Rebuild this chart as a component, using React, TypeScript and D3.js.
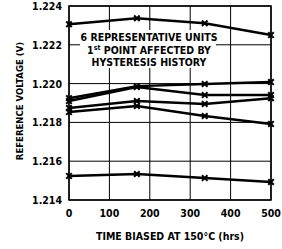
import React, { useEffect, useRef } from "react";
import * as d3 from "d3";

const hours = [0, 168, 336, 500];
const series = [
  [1.22306, 1.22337, 1.22311, 1.2225],
  [1.21925, 1.21987, 1.21998, 1.22008],
  [1.2191, 1.21982, 1.21941, 1.21941],
  [1.21874, 1.2191, 1.21895, 1.21925],
  [1.21853, 1.21884, 1.21833, 1.21792],
  [1.21524, 1.21534, 1.21513, 1.21493],
];
const xTicks = [0, 100, 200, 300, 400, 500];
const yTicks = [1.214, 1.216, 1.218, 1.22, 1.222, 1.224];
const note = ["6 REPRESENTATIVE UNITS", "POINT AFFECTED BY", "HYSTERESIS HISTORY"];

export default function App() {
  const ref = useRef<SVGSVGElement>(null);

  useEffect(() => {
    const svg = d3.select(ref.current);
    svg.selectAll("*").remove();
    const font = "'DejaVu Sans Condensed', 'DejaVu Sans', sans-serif";

    const x = d3.scaleLinear().domain([0, 500]).range([69, 271]);
    const y = d3.scaleLinear().domain([1.214, 1.224]).range([200, 6]);

    // grid
    const g = svg.append("g").attr("stroke", "#000").attr("stroke-width", 1);
    g.selectAll(".vx").data(xTicks).join("line")
      .attr("x1", d => x(d)).attr("x2", d => x(d)).attr("y1", y(1.224)).attr("y2", y(1.214));
    g.selectAll(".hy").data(yTicks).join("line")
      .attr("x1", x(0)).attr("x2", x(500)).attr("y1", d => y(d)).attr("y2", d => y(d));

    // white patch behind the annotation
    svg.append("rect").attr("x", 80).attr("y", 30).attr("width", 136).attr("height", 38).attr("fill", "#fff");

    // frame
    svg.append("rect").attr("x", x(0)).attr("y", y(1.224))
      .attr("width", x(500) - x(0)).attr("height", y(1.214) - y(1.224))
      .attr("fill", "none").attr("stroke", "#000").attr("stroke-width", 1.5);

    const line = d3.line<number>().x((d, i) => x(hours[i])).y(d => y(d));
    svg.selectAll(".ser").data(series).join("path")
      .attr("d", d => line(d))
      .attr("fill", "none").attr("stroke", "#000").attr("stroke-width", 2.5);

    const pts = series.flatMap(s => s.map((v, i) => [hours[i], v]));
    const sym = d3.symbol().type(d3.symbolX).size(22);
    svg.selectAll(".mk").data(pts).join("path")
      .attr("d", sym)
      .attr("transform", d => `translate(${x(d[0])},${y(d[1])})`)
      .attr("fill", "none").attr("stroke", "#000").attr("stroke-width", 2);

    // tick labels
    svg.selectAll(".yl").data(yTicks).join("text")
      .attr("x", 62).attr("y", d => y(d) + 4)
      .attr("text-anchor", "end").attr("font-family", font).attr("font-weight", "bold")
      .attr("font-size", 10.5).text(d => d3.format(".3f")(d));
    svg.selectAll(".xl").data(xTicks).join("text")
      .attr("x", d => x(d)).attr("y", 217)
      .attr("text-anchor", "middle").attr("font-family", font).attr("font-weight", "bold")
      .attr("font-size", 10.5).text(d => d);

    // axis titles
    svg.append("text")
      .attr("transform", "translate(23,101) rotate(-90)")
      .attr("text-anchor", "middle").attr("font-family", font).attr("font-weight", "bold")
      .attr("font-size", 9.5).text("REFERENCE VOLTAGE (V)");
    svg.append("text")
      .attr("x", 170).attr("y", 240)
      .attr("text-anchor", "middle").attr("font-family", font).attr("font-weight", "bold")
      .attr("font-size", 10.5).text("TIME BIASED AT 150°C (hrs)");

    // annotation
    const a = svg.append("g").attr("font-family", font).attr("font-weight", "bold")
      .attr("font-size", 10.5).attr("text-anchor", "middle");
    a.append("text").attr("x", 149).attr("y", 41).text(note[0]);
    const t2 = a.append("text").attr("x", 149).attr("y", 54);
    t2.append("tspan").text("1");
    t2.append("tspan").attr("dy", -4).attr("font-size", 7).text("st");
    t2.append("tspan").attr("dy", 4).text(" " + note[1]);
    a.append("text").attr("x", 149).attr("y", 66).text(note[2]);
  }, []);

  return (
    <svg ref={ref} width={282} height={249}
      style={{ position: "absolute", left: 0, top: 0, background: "#fff" }} />
  );
}
